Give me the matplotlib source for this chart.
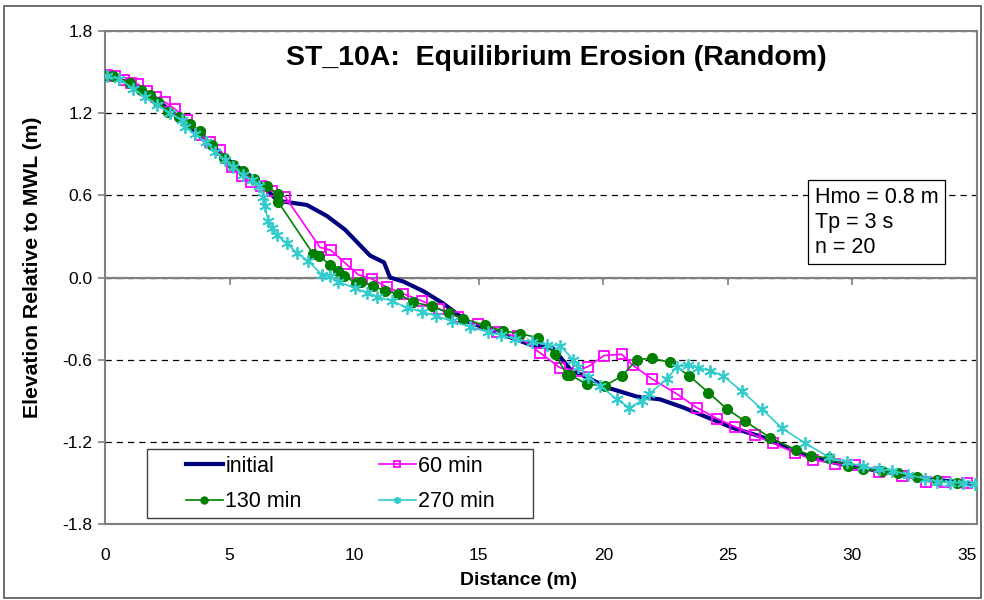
import matplotlib
matplotlib.use('Agg')
import matplotlib.pyplot as plt
from matplotlib.patches import Rectangle

plt.rcParams['font.family'] = ['Liberation Sans', 'DejaVu Sans']

# profile data (distance in m, elevation in m rel. MWL)
init_x = [0, 1, 2, 3, 4, 5, 6, 6.95, 8.1, 8.9, 9.63, 10.64, 11.2, 11.44, 11.98, 12.78,
          13.58, 14.52, 15.72, 17.06, 18.0, 18.67, 19.34, 20.27, 21.35, 22.28, 23.22,
          24.16, 25.22, 26.3, 27.23, 28.17, 28.97, 30.0, 31.0, 32.0, 33.0, 34.0, 35.0]
init_y = [1.48, 1.42, 1.31, 1.16, 1.0, 0.85, 0.72, 0.56, 0.53, 0.45, 0.35, 0.16, 0.11,
          0.0, -0.03, -0.10, -0.19, -0.32, -0.40, -0.49, -0.52, -0.67, -0.73, -0.81,
          -0.87, -0.89, -0.95, -1.02, -1.10, -1.16, -1.23, -1.30, -1.34, -1.38, -1.41,
          -1.44, -1.47, -1.49, -1.51]

m60_x = [0.07, 0.4, 0.75, 1.05, 1.34, 1.7, 2.05, 2.41, 2.81, 3.30, 3.81, 4.2, 4.62, 5.09,
         5.49, 5.85, 6.25, 6.69, 7.23, 8.63, 9.06, 9.67, 10.17, 10.71, 11.31, 11.98,
         12.71, 13.42, 14.18, 14.96, 15.75, 16.59, 17.46, 18.27, 18.98, 19.40, 20.03,
         20.74, 21.18, 21.95, 22.95, 23.75, 24.56, 25.29, 26.07, 26.80, 27.70, 28.43,
         29.3, 30.1, 31.08, 31.98, 32.95, 33.7, 34.6]
m60_y = [1.48, 1.47, 1.44, 1.42, 1.41, 1.36, 1.32, 1.28, 1.23, 1.15, 1.04, 0.99, 0.93,
         0.81, 0.74, 0.70, 0.67, 0.63, 0.59, 0.22, 0.20, 0.10, 0.02, -0.01, -0.07, -0.12,
         -0.17, -0.23, -0.29, -0.34, -0.40, -0.43, -0.55, -0.66, -0.68, -0.65, -0.57,
         -0.56, -0.64, -0.74, -0.85, -0.95, -1.03, -1.09, -1.15, -1.21, -1.28, -1.33,
         -1.36, -1.37, -1.42, -1.45, -1.49, -1.49, -1.50]

m130_x = [0.0, 0.33, 1.0, 1.43, 1.81, 2.14, 2.54, 2.98, 3.4, 3.81, 4.3, 4.78, 5.15, 5.55,
          6.0, 6.5, 6.93, 6.96, 8.36, 8.6, 9.03, 9.37, 9.6, 10.08, 10.28, 10.77, 11.24,
          11.78, 12.38, 13.11, 13.81, 14.38, 15.26, 15.97, 16.66, 17.39, 18.07, 18.53,
          18.67, 19.34, 20.07, 20.74, 21.35, 21.97, 22.68, 23.46, 24.22, 24.96, 25.69,
          26.7, 27.74, 28.35, 29.04, 29.84, 30.44, 31.18, 31.81, 32.61, 33.41, 34.21]
m130_y = [1.48, 1.47, 1.42, 1.37, 1.33, 1.28, 1.21, 1.17, 1.12, 1.07, 0.97, 0.87, 0.82,
          0.78, 0.72, 0.67, 0.61, 0.55, 0.17, 0.16, 0.09, 0.05, 0.01, -0.04, -0.03, -0.06,
          -0.10, -0.12, -0.18, -0.21, -0.26, -0.30, -0.35, -0.39, -0.41, -0.44, -0.56,
          -0.71, -0.71, -0.78, -0.79, -0.72, -0.60, -0.59, -0.62, -0.72, -0.84, -0.96,
          -1.05, -1.17, -1.26, -1.30, -1.32, -1.38, -1.40, -1.41, -1.43, -1.46, -1.48,
          -1.50]

m270_x = [0.07, 0.57, 1.14, 1.6, 2.1, 2.61, 3.08, 3.21, 3.6, 4.05, 4.42, 4.8, 5.15, 5.55,
          5.9, 6.19, 6.36, 6.42, 6.56, 6.69, 6.89, 7.29, 7.70, 8.16, 8.70, 9.03, 9.37,
          10.04, 10.5, 10.91, 11.51, 12.11, 12.71, 13.29, 13.92, 14.65, 15.39, 15.9,
          16.46, 17.13, 17.73, 18.27, 18.8, 19.0, 19.40, 19.87, 20.54, 21.05, 21.55,
          21.85, 22.55, 22.97, 23.42, 23.82, 24.29, 24.82, 25.56, 26.36, 27.17, 28.1,
          29.04, 29.77, 30.44, 31.05, 31.58, 32.25, 32.92, 33.39, 33.93, 34.43, 34.93]
m270_y = [1.47, 1.45, 1.38, 1.32, 1.26, 1.20, 1.15, 1.10, 1.05, 0.99, 0.92, 0.86, 0.81,
          0.75, 0.71, 0.67, 0.59, 0.52, 0.41, 0.36, 0.31, 0.25, 0.18, 0.12, 0.02, 0.01,
          -0.03, -0.08, -0.11, -0.14, -0.17, -0.22, -0.25, -0.28, -0.32, -0.36, -0.40,
          -0.42, -0.45, -0.47, -0.49, -0.50, -0.60, -0.65, -0.73, -0.79, -0.89, -0.95,
          -0.90, -0.85, -0.74, -0.65, -0.64, -0.66, -0.68, -0.72, -0.83, -0.96, -1.10,
          -1.21, -1.31, -1.35, -1.38, -1.40, -1.41, -1.44, -1.47, -1.49, -1.50, -1.50,
          -1.51]

x_ticks = [0, 5, 10, 15, 20, 25, 30, 35]
y_ticks = [-1.8, -1.2, -0.6, 0.0, 0.6, 1.2, 1.8]
title = 'ST_10A:  Equilibrium Erosion (Random)'
conditions = 'Hmo = 0.8 m\nTp = 3 s\nn = 20'

fig = plt.figure(figsize=(9.84, 6), dpi=100)
ax = fig.add_axes([0.1067, 0.1267, 0.8862, 0.8216])

# frame around the whole chart
fig.patches.append(Rectangle((0.004, 0.004), 0.993, 0.986, transform=fig.transFigure,
                             fill=False, edgecolor='#555555', linewidth=1.2))

l_init, = ax.plot(init_x, init_y, color='#000080', linewidth=3, label='initial', zorder=3)
l_60, = ax.plot(m60_x, m60_y, color='#FF00FF', linewidth=1.2, marker='s', markersize=7,
                markerfacecolor='none', markeredgewidth=1.3, label='60 min', zorder=4)
l_130, = ax.plot(m130_x, m130_y, color='#008000', linewidth=1.2, marker='o', markersize=7,
                 label='130 min', zorder=5)
l_270, = ax.plot(m270_x, m270_y, color='#33CCCC', linewidth=1.2, marker=(6, 2, 0),
                 markersize=9, markeredgewidth=1.3, label='270 min', zorder=6)

ax.set_xlim(0, 35)
ax.set_ylim(-1.8, 1.8)
ax.set_xticks(x_ticks)
ax.set_yticks(y_ticks)
ax.set_yticklabels([f'{v:.1f}' for v in y_ticks])
ax.tick_params(axis='x', length=0, labelsize=12.5, pad=17)
ax.tick_params(axis='y', direction='out', length=5, width=1.2, color='#808080',
               labelsize=12.5, pad=4)
ax.get_xticklabels()[-1].set_horizontalalignment('right')

for s in ax.spines.values():
    s.set_color('#808080')
    s.set_linewidth(1.5)

# dashed horizontal gridlines, solid axis line at zero
ax.yaxis.grid(True, linestyle=(0, (5, 4)), color='black', linewidth=0.9)
ax.axhline(0, color='#808080', linewidth=1.6, zorder=2)
sec = ax.secondary_xaxis(0.5)
sec.set_xticks(x_ticks)
sec.tick_params(direction='in', length=6, width=1.2, color='#808080',
                labeltop=False, labelbottom=False)
sec.spines['top'].set_visible(False)
sec.spines['bottom'].set_visible(False)

ax.set_xlabel('Distance (m)', fontsize=14, fontweight='bold')
ax.xaxis.set_label_coords(0.474, -0.114)
ax.xaxis.label.set_verticalalignment('center')
ax.set_ylabel('Elevation Relative to MWL (m)', fontsize=15.2, fontweight='bold')
ax.yaxis.set_label_coords(-0.083, 0.521)
ax.yaxis.label.set_verticalalignment('center')

ax.text(0.517, 0.945, title, transform=ax.transAxes, ha='center', va='center',
        fontsize=20.5, fontweight='bold')

ax.text(0.814, 0.684, conditions, transform=ax.transAxes, ha='left', va='top',
        fontsize=15.5, linespacing=1.25,
        bbox=dict(boxstyle='square,pad=0.3', facecolor='white', edgecolor='black',
                  linewidth=0.9))

# legend: framed box with two rows (initial / 60 min, 130 min / 270 min)
ax.add_patch(Rectangle((0.048, 0.012), 0.443, 0.14, transform=ax.transAxes,
                       facecolor='white', edgecolor='#404040', linewidth=1.0, zorder=9))
leg = ax.legend([l_init, l_130, l_60, l_270], ['initial', '130 min', '60 min', '270 min'],
                loc='center left', bbox_to_anchor=(0.093, 0.081), ncol=2, fontsize=15.5,
                frameon=False, handlelength=1.7, handletextpad=0.12, borderaxespad=0,
                borderpad=0, columnspacing=3.6, labelspacing=0.68)
for h in leg.legend_handles:
    h.set_markersize(5)
leg.set_zorder(10)

fig.savefig('out.png', dpi=100, facecolor='white')
